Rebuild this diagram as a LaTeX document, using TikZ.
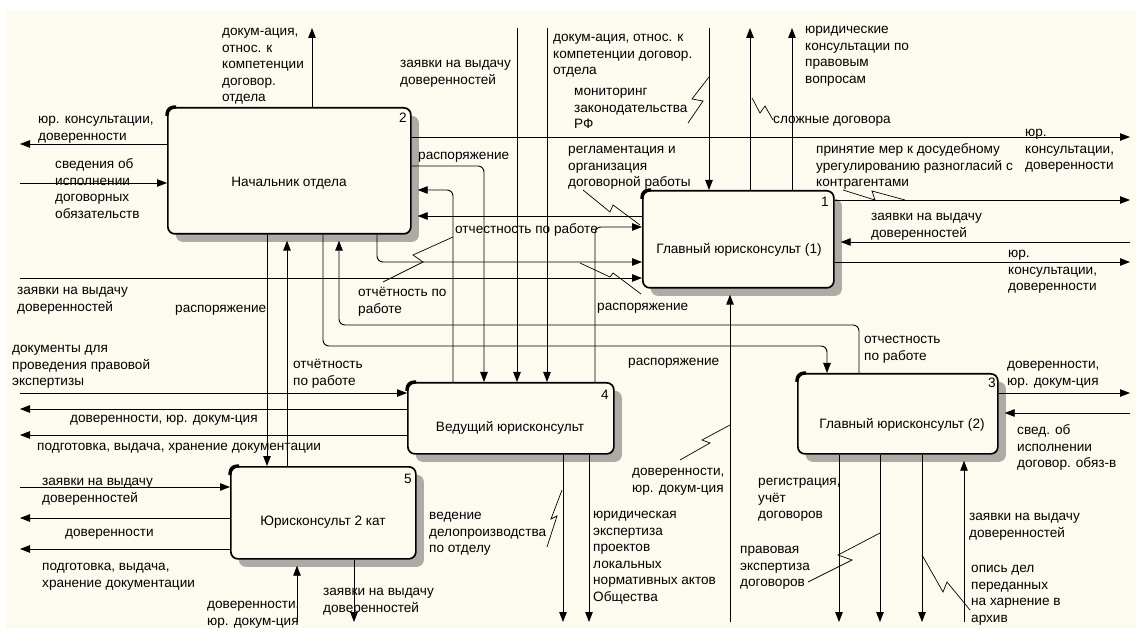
\documentclass[tikz,border=0pt]{standalone}
\usepackage{fontspec}
\setmainfont{Liberation Sans}
\usetikzlibrary{arrows.meta,calc,shadows}
\definecolor{bgc}{RGB}{253,251,240}
\definecolor{shc}{RGB}{172,171,165}
\newcommand{\lf}{\fontsize{13.6}{16.5}\selectfont}
\begin{document}
\begin{tikzpicture}[x=1pt,y=-1pt,
  box/.style={draw, line width=1.7pt, fill=bgc, rounded corners=7pt, inner sep=0pt, anchor=north west,
     drop shadow={shadow xshift=8pt, shadow yshift=-8pt, opacity=1, fill=shc}},
  lab/.style={inner sep=0pt, anchor=north west, align=left, font=\lf, yshift=-2pt},
  btxt/.style={inner sep=0pt, font=\lf},
  num/.style={inner sep=0pt, font=\lf, anchor=base},
  ln/.style={line width=0.9pt, rounded corners=6pt},
  arr/.style={ln, -{Triangle[length=10pt,width=7.5pt]}},
  arrs/.style={arr, shorten >=6pt},
  sq/.style={line width=0.7pt},
  corner/.style={line width=3.2pt, rounded corners=7pt}
]
\useasboundingbox (0,0) rectangle (1136,628);
\fill[white] (0,0) rectangle (1136,628);
\fill[bgc] (6,10) rectangle (1136,628);

% boxes
\node[box, minimum width=243pt, minimum height=126pt] (b2) at (167,107) {};
\node[box, minimum width=191pt, minimum height=97pt] (b1) at (642,190) {};
\node[box, minimum width=206pt, minimum height=71pt] (b4) at (407,382) {};
\node[box, minimum width=200pt, minimum height=80pt] (b3) at (797,373) {};
\node[box, minimum width=185pt, minimum height=92pt] (b5) at (230,466) {};
\foreach \b in {b1,b2,b3,b4,b5}{
  \draw[corner] ($(\b.north west)+(0,9)$) |- ($(\b.north west)+(9,0)$);
}

% box texts and numbers
\node[btxt] (t2) at (289,183) {Начальник отдела};
\node[btxt] (t1) at (739,250) {Главный юрисконсульт (1)};
\node[btxt] (t4) at (510,428) {Ведущий юрисконсульт};
\node[btxt] (t3) at (902,425) {Главный юрисконсульт (2)};
\node[btxt] (t5) at (323,522) {Юрисконсульт 2 кат};
\node[num] (n2) at (403,123) {2};
\node[num] (n1) at (825,207) {1};
\node[num] (n4) at (605,400) {4};
\node[num] (n3) at (992,388) {3};
\node[num] (n5) at (408,483) {5};

% free ends and bends
\coordinate (u1) at (312,28);
\coordinate (u2) at (517,28);
\coordinate (u3) at (547,28);
\coordinate (u4) at (709,28);
\coordinate (u5) at (750,28);
\coordinate (u6) at (792,28);
\coordinate (d1) at (297,622);
\coordinate (d2) at (354,622);
\coordinate (d3) at (563,622);
\coordinate (d4) at (589,622);
\coordinate (d5) at (730,622);
\coordinate (d6) at (839,622);
\coordinate (d7) at (880,622);
\coordinate (d8) at (922,622);
\coordinate (d9) at (964,622);
\coordinate (l1) at (20,144);
\coordinate (l2) at (20,183);
\coordinate (l3) at (20,278);
\coordinate (l4) at (20,393);
\coordinate (l5) at (20,409);
\coordinate (l6) at (20,435);
\coordinate (l7) at (20,487);
\coordinate (l8) at (20,518);
\coordinate (l9) at (20,549);
\coordinate (r1) at (1130,137);
\coordinate (r2) at (1130,200);
\coordinate (r3) at (1130,242);
\coordinate (r4) at (1130,262);
\coordinate (r5) at (1130,393);
\coordinate (r6) at (1130,413);
\coordinate (k1) at (484,166);
\coordinate (k2) at (453,190);
\coordinate (k3) at (595,227);
\coordinate (k4) at (377,262);
\coordinate (k5) at (339,325);
\coordinate (k5b) at (859,325);
\coordinate (k6) at (323,346);
\coordinate (k6b) at (827,346);
\coordinate (v267) at (267,0);
\coordinate (v287) at (287,0);
\coordinate (h216) at (0,216);

% connectors: box 2
\draw[arr] (u1 |- b2.north) -- (u1);
\draw[arr] (l1 -| b2.west) -- (l1);
\draw[arr] (l2) -- (l2 -| b2.west);
\draw[arr] (r1 -| b2.east) -- (r1);
\draw[arr] (k1 -| b2.east) -- (k1) -- (k1 |- b4.north);
\draw[arrs] (k2 |- b4.north) -- (k2) -- (k2 -| b2.east);
\draw[arrs] (h216 -| b1.west) -- (h216 -| b2.east);
\draw[arr] (k3 |- b4.north) -- (k3) -- (k3 -| b1.west);
\draw[arr] (k4 |- b2.south) -- (k4) -- (k4 -| b1.west);
\draw[arr] (l3) -- (l3 -| b1.west);
\draw[arrs] (k5b |- b3.north) -- (k5b) -- (k5) -- (k5 |- b2.south);
\draw[arr] (k6 |- b2.south) -- (k6) -- (k6b) -- (k6b |- b3.north);
\draw[arr] (v267 |- b2.south) -- (v267 |- b5.north);
\draw[arrs] (v287 |- b5.north) -- (v287 |- b2.south);
% box 4 / box 1 top
\draw[arr] (u2) -- (u2 |- b4.north);
\draw[arr] (u3) -- (u3 |- b4.north);
\draw[arr] (u4) -- (u4 |- b1.north);
\draw[arr] (u5 |- b1.north) -- (u5);
\draw[arr] (u6 |- b1.north) -- (u6);
% box 1 right and bottom
\draw[arr] (r2 -| b1.east) -- (r2);
\draw[arrs] (r3) -- (r3 -| b1.east);
\draw[arr] (r4 -| b1.east) -- (r4);
\draw[arrs] (d5) -- (d5 |- b1.south);
% box 4
\draw[arr] (l4) -- (l4 -| b4.west);
\draw[arr] (l5 -| b4.west) -- (l5);
\draw[arr] (l6 -| b4.west) -- (l6);
\draw[arr] (d3 |- b4.south) -- (d3);
\draw[arr] (d4 |- b4.south) -- (d4);
% box 3
\draw[arr] (r5 -| b3.east) -- (r5);
\draw[arrs] (r6) -- (r6 -| b3.east);
\draw[arr] (d6 |- b3.south) -- (d6);
\draw[arr] (d7 |- b3.south) -- (d7);
\draw[arr] (d8 |- b3.south) -- (d8);
\draw[arrs] (d9) -- (d9 |- b3.south);
% box 5
\draw[arr] (l7) -- (l7 -| b5.west);
\draw[arr] (l8 -| b5.west) -- (l8);
\draw[arr] (l9 -| b5.west) -- (l9);
\draw[arrs] (d1) -- (d1 |- b5.south);
\draw[arr] (d2 |- b5.south) -- (d2);

% squiggles
\draw[sq] (688,123) -- (703,101) -- (692,99) -- (709,77);
\draw[sq] (752,98) -- (760,113) -- (765,106) -- (773,120);
\draw[sq] (583,190) -- (610,212) -- (613,205) -- (640,225);
\draw[sq] (843,190) -- (875,200) -- (872,191) -- (905,200);
\draw[sq] (453,237) -- (413,255) -- (423,262) -- (383,282);
\draw[sq] (580,263) -- (610,277) -- (613,273) -- (641,294);
\draw[sq] (680,460) -- (710,443) -- (702,440) -- (730,425);
\draw[sq] (547,547) -- (557,516) -- (551,519) -- (562,490);
\draw[sq] (808,582) -- (852,560) -- (838,555) -- (880,533);
\draw[sq] (922,555) -- (943,592) -- (947,582) -- (970,610);

% labels
\node[lab] (L1) at (222,22) {\strut докум-ация,\\относ. к\\компетенции\\договор.\\отдела};
\node[lab] (L2) at (38,110) {\strut юр. консультации,\\доверенности};
\node[lab] (L3) at (55,155) {\strut сведения об\\исполнении\\договорных\\обязательств};
\node[lab] (L4) at (400,54) {\strut заявки на выдачу\\доверенностей};
\node[lab] (L5) at (553,28) {\strut докум-ация, относ. к\\компетенции договор.\\отдела};
\node[lab] (L6) at (574,82) {\strut мониторинг\\законодательства\\РФ};
\node[lab] (L7) at (805,20) {\strut юридические\\консультации по\\правовым\\вопросам};
\node[lab] (L8) at (773,110) {\strut сложные договора};
\node[lab] (L9) at (418,146) {\strut распоряжение};
\node[lab] (L10) at (568,140) {\strut регламентация и\\организация\\договорной работы};
\node[lab] (L11) at (816,140) {\strut принятие мер к досудебному\\урегулированию разногласий с\\контрагентами};
\node[lab] (L12) at (1025,123) {\strut юр.\\консультации,\\доверенности};
\node[lab] (L13) at (455,220) {\strut отчестность по работе};
\node[lab] (L14) at (871,207) {\strut заявки на выдачу\\доверенностей};
\node[lab] (L15) at (1008,244) {\strut юр.\\консультации,\\доверенности};
\node[lab] (L16) at (17,281) {\strut заявки на выдачу\\доверенностей};
\node[lab] (L17) at (175,299) {\strut распоряжение};
\node[lab] (L18) at (358,283) {\strut отчётность по\\работе};
\node[lab] (L19) at (597,297) {\strut распоряжение};
\node[lab] (L20) at (628,352) {\strut распоряжение};
\node[lab] (L21) at (864,330) {\strut отчестность\\по работе};
\node[lab] (L22) at (1007,355) {\strut доверенности,\\юр. докум-ция};
\node[lab] (L23) at (12,339) {\strut документы для\\проведения правовой\\экспертизы};
\node[lab] (L24) at (293,355) {\strut отчётность\\по работе};
\node[lab] (L25) at (70,409) {\strut доверенности, юр. докум-ция};
\node[lab] (L26) at (37,437) {\strut подготовка, выдача, хранение документации};
\node[lab] (L27) at (1017,421) {\strut свед. об\\исполнении\\договор. обяз-в};
\node[lab] (L28) at (42,472) {\strut заявки на выдачу\\доверенностей};
\node[lab] (L29) at (65,523) {\strut доверенности};
\node[lab] (L30) at (42,557) {\strut подготовка, выдача,\\хранение документации};
\node[lab] (L31) at (207,595) {\strut доверенности,\\юр. докум-ция};
\node[lab] (L32) at (323,582) {\strut заявки на выдачу\\доверенностей};
\node[lab] (L33) at (429,506) {\strut ведение\\делопроизводства\\по отделу};
\node[lab] (L34) at (593,505) {\strut юридическая\\экспертиза\\проектов\\локальных\\нормативных актов\\Общества};
\node[lab] (L35) at (632,462) {\strut доверенности,\\юр. докум-ция};
\node[lab] (L36) at (758,472) {\strut регистрация,\\учёт\\договоров};
\node[lab] (L37) at (740,540) {\strut правовая\\экспертиза\\договоров};
\node[lab] (L38) at (969,507) {\strut заявки на выдачу\\доверенностей};
\node[lab] (L39) at (971,559) {\strut опись дел\\переданных\\на харнение в\\архив};
\end{tikzpicture}
\end{document}
